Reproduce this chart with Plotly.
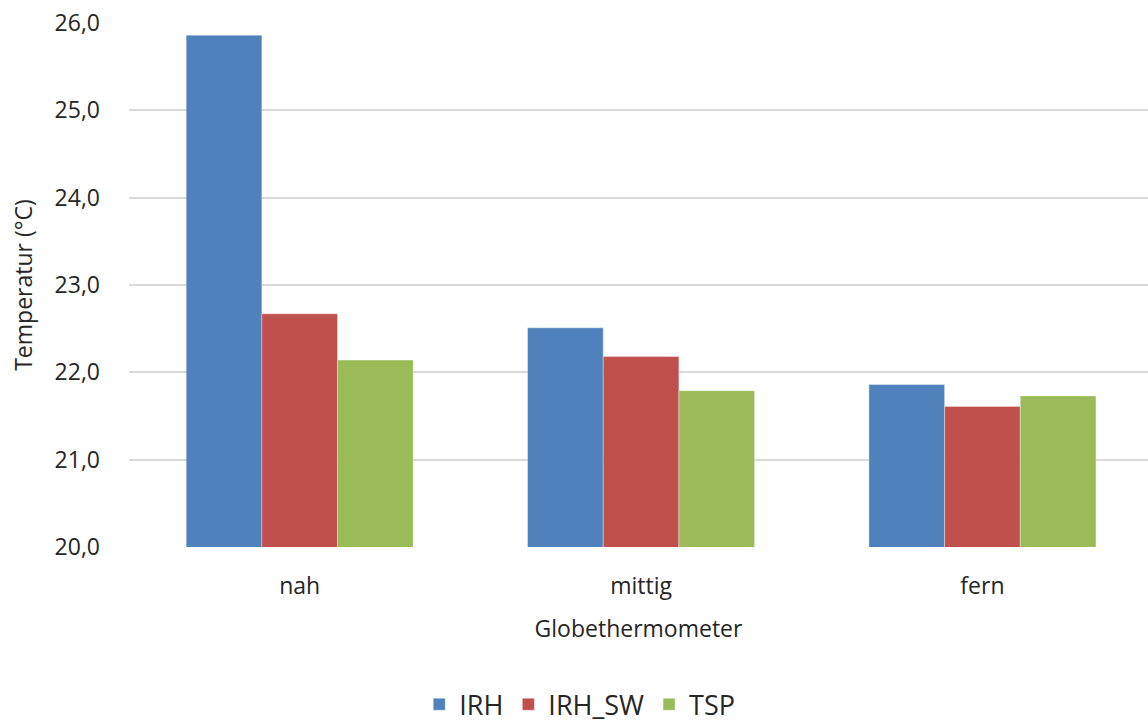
import plotly.graph_objects as go

categories = ["nah", "mittig", "fern"]
irh = [25.86, 22.51, 21.86]
irh_sw = [22.67, 22.18, 21.61]
tsp = [22.14, 21.79, 21.73]
y_ticks = [20, 21, 22, 23, 24, 25, 26]
y_tick_labels = ["20,0", "21,0", "22,0", "23,0", "24,0", "25,0", "26,0"]

FONT = "Open Sans"
series = [
    ("IRH", irh, "#4f81bd"),
    ("IRH_SW", irh_sw, "#c0504d"),
    ("TSP", tsp, "#9bbb59"),
]

fig = go.Figure()
for name, vals, color in series:
    fig.add_trace(go.Bar(
        x=categories, y=vals, name=name,
        marker=dict(color=color, line=dict(color="rgba(255,255,255,0.35)", width=1)),
    ))

fig.update_layout(
    width=1148, height=722,
    margin=dict(l=129, r=0, t=23, b=175, autoexpand=False),
    paper_bgcolor="white", plot_bgcolor="white",
    barmode="group", bargap=0.335, bargroupgap=0,
    font=dict(family=FONT, size=22, color="#262626"),
    showlegend=True,
    legend=dict(orientation="h", x=0.505, xanchor="center", xref="container",
                y=0.024, yanchor="middle", yref="container",
                font=dict(size=27), itemwidth=30, traceorder="normal"),
)
fig.update_xaxes(
    range=[-0.5, 2.485], showgrid=False, showline=False, zeroline=False,
    tickfont=dict(size=23), ticks="", ticklabelstandoff=23,
    title=dict(text="Globethermometer", font=dict(size=23), standoff=20),
)
fig.update_yaxes(
    range=[20, 26], tickvals=y_ticks, ticktext=y_tick_labels,
    showgrid=True, gridcolor="#d9d9d9", gridwidth=1.5, zeroline=False, showline=False,
    tickfont=dict(size=23), ticks="", ticklabelstandoff=28,
    title=dict(text="Temperatur (°C)", font=dict(size=23), standoff=15),
)

fig.write_html("out.html")
